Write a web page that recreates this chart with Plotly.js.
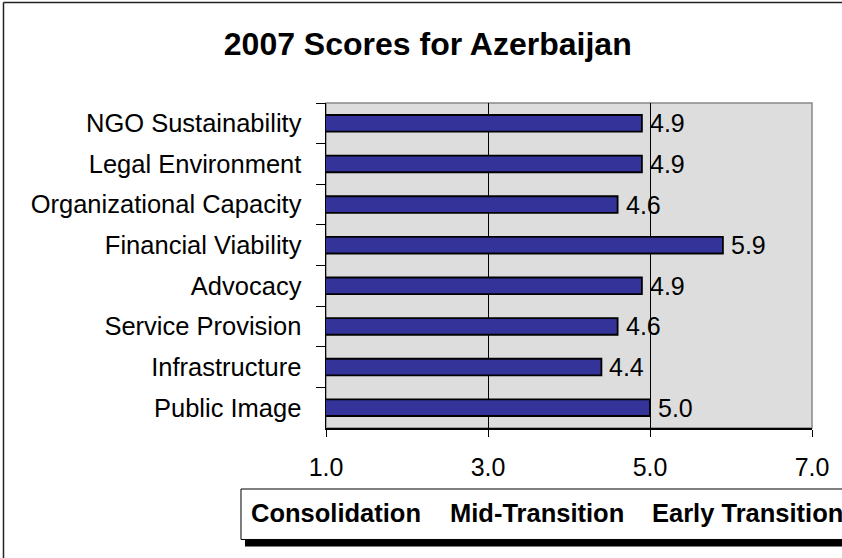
<!DOCTYPE html>
<html>
<head>
<meta charset="utf-8">
<script src="https://cdn.plot.ly/plotly-3.0.1.min.js"></script>
<style>
  html, body { margin: 0; padding: 0; background: #fff; overflow: hidden; }
  #graph { width: 842px; height: 558px; }
</style>
</head>
<body>
<div id="graph"></div>
<script>
// categories, top to bottom
var categories = ["NGO Sustainability", "Legal Environment", "Organizational Capacity",
  "Financial Viability", "Advocacy", "Service Provision", "Infrastructure", "Public Image"];
// 2007 scores
var scores = [4.9, 4.9, 4.6, 5.9, 4.9, 4.6, 4.4, 5.0];
// x axis ticks
var tickVals = [1, 3, 5, 7];
var tickText = ["1.0", "3.0", "5.0", "7.0"];
// stage labels shown in the box under the axis, with where each starts on the scale
var stages = ["Consolidation", "Mid-Transition", "Early Transition"];
var stageStarts = [0.05, 2.5, 5.0];

var font = "Liberation Sans, Arial, sans-serif";
var xMin = 1, xMax = 7;

function drawGraph() {
    var trace, data, layout, annotations, shapes;

    trace = {
        type: "bar",
        orientation: "h",
        x: scores,
        y: categories,
        width: 0.41,
        marker: { color: "#333399", line: { color: "#000", width: 1.8 } },
        hoverinfo: "none"
    };
    data = [trace];

    // value labels next to each bar
    annotations = scores.map(function (v, i) {
        return {
            x: v, y: categories[i], xref: "x", yref: "y",
            text: v.toFixed(1), showarrow: false,
            xanchor: "left", yanchor: "middle", xshift: 6,
            font: { family: font, size: 25, color: "#000" }
        };
    });

    // stage labels in the box below (scale value -> paper fraction, since the first one sits left of the axis)
    stages.forEach(function (s, i) {
        annotations.push({
            x: (stageStarts[i] - xMin) / (xMax - xMin), y: -0.263, xref: "paper", yref: "paper",
            text: "<b>" + s + "</b>", showarrow: false,
            xanchor: "left", yanchor: "middle",
            font: { family: font, size: 25.5, color: "#000" }
        });
    });

    shapes = [
        // outer frame: only left and top edges are inside the picture
        { type: "line", xref: "paper", yref: "paper", x0: -0.6636, x1: -0.6636, y0: -0.5, y1: 1.309,
          line: { color: "#222", width: 1.5 }, layer: "below" },
        { type: "line", xref: "paper", yref: "paper", x0: -0.6636, x1: 1.1, y0: 1.309, y1: 1.309,
          line: { color: "#222", width: 1.5 }, layer: "below" },
        // shadow of the stage box
        { type: "rect", xref: "paper", yref: "paper", x0: -0.1667, x1: 1.1, y0: -0.3646, y1: -0.343,
          line: { width: 0 }, fillcolor: "#000" },
        // stage box
        { type: "rect", xref: "paper", yref: "paper", x0: -0.1749, x1: 1.1, y0: -0.343, y1: -0.1877,
          line: { color: "#000", width: 1 }, fillcolor: "#fff" },
        // plot border
        { type: "rect", xref: "paper", yref: "paper", x0: 0, x1: 1, y0: 0, y1: 1,
          line: { color: "#888", width: 1.5 }, fillcolor: "rgba(0,0,0,0)", layer: "below" }
    ];

    layout = {
        width: 842,
        height: 558,
        margin: { l: 326, r: 30, t: 103, b: 130 },
        paper_bgcolor: "#fff",
        plot_bgcolor: "#dddddd",
        showlegend: false,
        title: {
            text: "<b>2007 Scores for Azerbaijan</b>",
            x: 0.508, xanchor: "center",
            y: 0.921, yanchor: "middle",
            font: { family: font, size: 32, color: "#000" }
        },
        xaxis: {
            range: [xMin, xMax],
            tickvals: tickVals,
            ticktext: tickText,
            ticks: "outside",
            ticklen: 7,
            tickcolor: "#000",
            ticklabelstandoff: 9,
            showgrid: true,
            gridcolor: "#000",
            gridwidth: 1,
            zeroline: false,
            showline: true,
            linecolor: "#000",
            linewidth: 1.5,
            tickfont: { family: font, size: 25, color: "#000" },
            fixedrange: true
        },
        yaxis: {
            autorange: "reversed",
            ticks: "outside",
            tickson: "boundaries",
            ticklen: 9,
            tickcolor: "#000",
            ticklabelstandoff: 18,
            showgrid: false,
            showline: true,
            linecolor: "#000",
            linewidth: 1.5,
            tickfont: { family: font, size: 25.5, color: "#000" },
            fixedrange: true
        },
        annotations: annotations,
        shapes: shapes
    };

    Plotly.newPlot("graph", data, layout, { displayModeBar: false, staticPlot: true });
}

drawGraph();
</script>
</body>
</html>
